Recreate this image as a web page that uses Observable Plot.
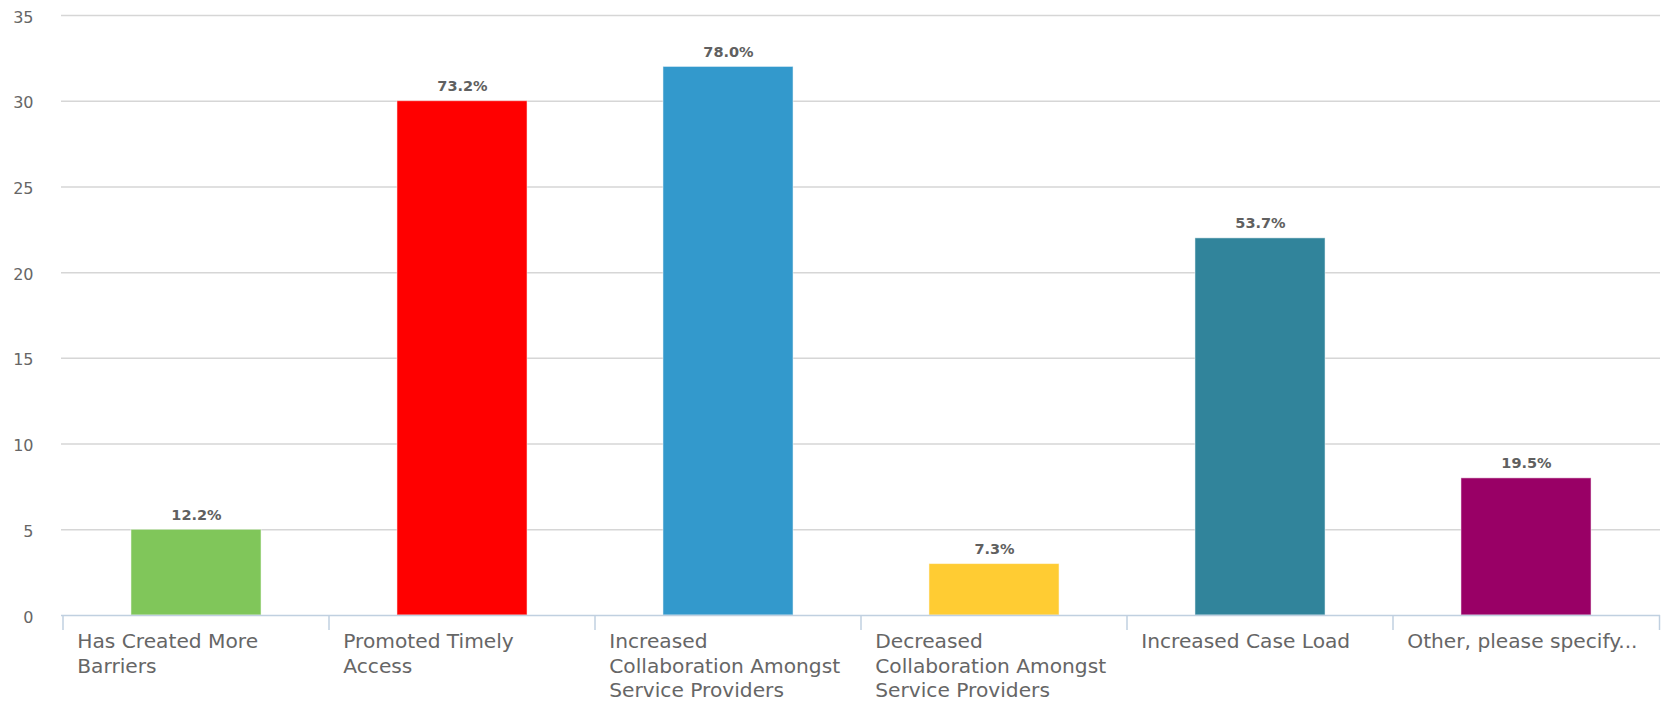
<!DOCTYPE html>
<html>
<head>
<meta charset="utf-8">
<script src="https://cdn.jsdelivr.net/npm/d3@7"></script>
<script src="https://cdn.jsdelivr.net/npm/@observablehq/plot@0.6"></script>
<style>
  html, body { margin: 0; padding: 0; background: #fff; }
  #chart svg { display: block; }
</style>
</head>
<body>
<div id="chart"></div>
<script>
const categories = [
  "Has Created More Barriers",
  "Promoted Timely Access",
  "Increased Collaboration Amongst Service Providers",
  "Decreased Collaboration Amongst Service Providers",
  "Increased Case Load",
  "Other, please specify..."
];
const tickLabels = [
  "Has Created More\nBarriers",
  "Promoted Timely\nAccess",
  "Increased\nCollaboration Amongst\nService Providers",
  "Decreased\nCollaboration Amongst\nService Providers",
  "Increased Case Load",
  "Other, please specify..."
];
const counts = [5, 30, 32, 3, 22, 8];
const percentLabels = ["12.2%", "73.2%", "78.0%", "7.3%", "53.7%", "19.5%"];
const barColors = ["#80c65a", "#ff0000", "#3399cc", "#ffcc33", "#31849b", "#990066"];
const yTicks = [0, 5, 10, 15, 20, 25, 30, 35];

const data = categories.map((c, i) => ({
  cat: c, count: counts[i], pct: percentLabels[i], color: barColors[i], label: tickLabels[i]
}));

const W = 1668, H = 704;
const mL = 61, mR = 8, mT = 15, mB = 89;
const step = (W - mL - mR) / categories.length;
const barWidth = step * 0.49;
const inset = (step - barWidth) / 2;

function bandTicks(index, scales, values, dimensions) {
  const g = d3.create("svg:g");
  const y0 = dimensions.height - dimensions.marginBottom;
  const xs = categories.map(c => scales.x(c));
  xs.push(scales.x(categories[categories.length - 1]) + step);
  g.selectAll("line").data(xs).join("line")
    .attr("x1", d => d).attr("x2", d => d)
    .attr("y1", y0).attr("y2", y0 + 15)
    .attr("stroke", "#c0d0e0").attr("stroke-width", 1.5);
  return g.node();
}

const chart = Plot.plot({
  width: W,
  height: H,
  marginLeft: mL,
  marginRight: mR,
  marginTop: mT,
  marginBottom: mB,
  style: { fontFamily: "DejaVu Sans", background: "#fff" },
  x: { domain: categories, padding: 0, axis: null },
  y: { domain: [0, 35], axis: null },
  color: { type: "identity" },
  marks: [
    Plot.ruleY(yTicks.filter(d => d > 0), { stroke: "#d6d6d6", strokeWidth: 1.5 }),
    Plot.axisY(yTicks, {
      tickSize: 0, tickPadding: 28, fontSize: 16, fill: "#666", dy: 2,
      tickFormat: d => String(d), label: null
    }),
    Plot.barY(data, {
      x: "cat", y: "count", fill: "color",
      insetLeft: inset, insetRight: inset,
      stroke: "#fff", strokeOpacity: 0.5, strokeWidth: 1
    }),
    Plot.ruleY([0], { stroke: "#c0d0e0", strokeWidth: 1.5 }),
    bandTicks,
    Plot.text(data, {
      x: "cat", y: "count", text: "pct",
      lineAnchor: "bottom", dy: -10,
      fontWeight: "bold", fontSize: 14.5, fill: "#606060"
    }),
    Plot.text(data, {
      x: "cat", text: "label", frameAnchor: "bottom",
      textAnchor: "start", lineAnchor: "top",
      dx: -step / 2 + 14, dy: 15, lineHeight: 1.22,
      fontSize: 20.2, fill: "#666"
    })
  ]
});

document.getElementById("chart").appendChild(chart);
</script>
</body>
</html>
